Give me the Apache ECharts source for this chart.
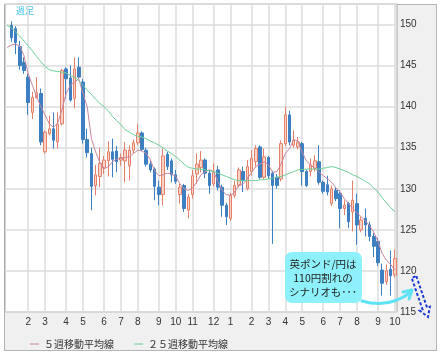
<!DOCTYPE html>
<html><head><meta charset="utf-8">
<script src="https://cdn.jsdelivr.net/npm/echarts@6/dist/echarts.min.js"></script>
<style>
html,body{margin:0;padding:0;background:#fff;}
#frame{position:absolute;left:4px;top:4px;width:431px;height:345px;background:#f0f0f0;border:1px solid #b4b4b4;}
#c{position:absolute;left:0;top:0;width:441px;height:355px;}
</style></head><body>
<div id="frame"></div><div id="c"></div>
<script>
// weekly candles (first entry = previous week, only its moving averages are visible)
const opens  = [null,149.9,149.5,147.3,145.4,143.6,139.3,141.1,141.6,134.5,136.7,137.3,135.7,137.9,144.6,143.5,141.0,144.8,143.0,136.0,134.3,130.4,131.5,132.5,133.4,134.5,134.6,133.5,133.4,132.8,134.7,135.6,136.8,134.7,133.0,132.4,130.2,129.3,134.2,133.4,131.7,129.3,130.4,127.4,129.3,131.8,132.6,133.5,131.9,130.6,132.3,130.2,128.0,126.4,129.2,130.4,132.1,130.0,132.1,133.3,135.1,131.4,133.8,131.9,131.4,131.2,135.5,139.0,135.3,135.1,135.5,132.1,132.1,132.5,133.3,130.8,130.5,128.2,129.8,129.4,127.6,128.2,127.2,128.2,125.0,126.4,125.6,124.2,123.6,120.1,118.7,120.2,119.5];
const closes = [null,148.4,147.8,145.0,144.4,140.5,141.1,141.7,135.7,136.9,137.3,135.9,137.9,144.4,143.4,140.8,144.6,143.6,136.0,134.4,130.3,131.7,133.1,133.5,134.5,133.6,133.3,133.8,134.7,134.7,135.6,136.8,134.8,133.0,132.3,130.3,129.3,134.0,132.7,131.7,130.9,130.2,127.6,129.0,131.6,133.0,133.5,131.9,130.4,132.0,130.2,128.0,126.6,129.2,130.4,132.3,131.0,132.7,133.7,134.9,131.4,133.9,131.6,130.4,130.4,135.5,139.0,135.7,135.9,135.7,132.1,130.4,132.9,133.4,130.8,129.7,129.6,130.0,128.8,127.6,128.0,126.0,128.6,125.6,126.2,125.6,124.2,123.0,121.0,118.5,120.0,119.4,121.5];
const lows   = [null,147.9,146.4,144.5,144.0,139.0,138.5,141.0,135.3,134.3,136.5,134.9,134.9,137.7,141.0,140.6,139.8,143.4,135.5,133.8,127.4,129.2,130.2,131.8,131.5,131.4,132.0,132.8,130.8,131.0,134.3,135.3,134.6,132.7,132.0,128.6,128.0,128.0,132.3,130.8,130.6,128.2,127.2,126.4,128.8,130.6,132.0,131.3,129.4,130.3,129.8,126.6,125.6,126.1,128.9,130.2,129.6,129.8,131.6,132.7,131.2,131.2,131.2,123.3,130.0,130.9,135.2,135.3,135.0,134.8,130.4,130.2,131.5,132.1,130.5,129.4,129.2,127.9,128.5,125.2,126.8,125.2,124.8,123.2,124.7,124.2,123.6,121.7,120.6,117.0,118.3,117.0,119.2];
const highs  = [null,150.4,149.8,148.0,146.0,144.0,141.8,143.6,142.2,137.1,138.9,139.3,139.3,144.6,144.8,145.0,146.0,146.0,143.4,137.3,135.0,132.9,135.0,134.0,135.8,136.1,135.2,134.3,135.7,135.3,136.0,137.9,137.0,135.0,133.4,132.6,131.0,134.9,134.5,133.7,132.3,130.6,130.6,129.4,132.3,134.3,134.6,133.7,132.3,133.1,132.8,130.5,128.3,129.5,131.0,132.6,132.7,133.5,134.7,135.3,135.3,134.9,134.0,132.2,131.8,135.9,140.0,139.5,137.1,136.3,135.7,132.3,133.7,134.1,135.3,131.0,131.6,130.4,130.2,129.8,128.6,128.4,131.0,129.4,126.6,127.6,126.0,124.6,124.0,120.9,120.8,122.5,122.6];
// 5-week moving average
const ma5  = [147.2,147.5,147.6,147.4,146.2,144.0,142.6,141.2,140.0,139.0,137.9,137.5,138.0,139.6,141.6,142.6,143.0,143.4,141.6,140.0,136.1,134.5,133.2,132.5,132.7,133.3,133.6,133.7,133.8,133.9,134.3,134.7,134.6,134.3,133.5,132.2,131.6,131.7,131.9,131.8,131.5,130.6,130.0,129.8,130.1,130.8,131.7,132.1,132.3,132.1,130.9,129.8,129.3,129.2,129.6,130.5,130.6,131.2,132.0,132.7,133.0,133.3,132.9,132.0,132.1,133.0,134.3,134.9,136.0,135.8,134.5,133.4,132.9,132.5,132.0,131.6,131.2,130.8,130.1,129.6,128.8,128.2,127.6,127.1,126.6,126.1,125.5,124.7,123.6,122.1,121.3,120.8,120.1];
// 25-week moving average
const ma25 = [149.9,149.6,149.1,148.6,148.0,147.4,146.8,146.1,145.5,144.9,144.5,144.35,144.3,144.2,144.1,143.8,143.6,143.2,142.6,142.0,141.5,140.9,140.4,140.0,139.5,138.8,138.3,137.8,137.2,136.9,136.6,136.4,136.3,136.1,135.8,135.6,135.3,135.0,134.6,134.3,133.9,133.5,133.0,132.6,132.5,132.4,132.4,132.3,132.2,132.1,131.9,131.7,131.5,131.3,131.1,131.0,131.0,131.0,131.0,131.0,131.1,131.1,131.2,131.3,131.4,131.5,131.7,131.9,132.1,132.3,132.35,132.4,132.4,132.4,132.4,132.5,132.6,132.7,132.6,132.4,132.2,132.0,131.7,131.5,131.2,130.9,130.6,130.1,129.6,128.9,128.3,127.7,127.2];
const seriesNames = ['５週移動平均線', '２５週移動平均線'];
const yTicks = [115, 120, 125, 130, 135, 140, 145, 150];

// weekly categories (Friday week labels)
const categories = [];
for (let i = 0; i < opens.length; i++) {
  const d = new Date(Date.UTC(2012, 11, 28) + i * 7 * 86400000);
  categories.push(d.toISOString().slice(0, 10));
}
const candleData = opens.map((o, i) => o == null ? '-' : [o, closes[i], lows[i], highs[i]]);
const isMonthStart = (idx, val) => idx > 1 && Number(String(val).slice(8, 10)) <= 7;

const chart = echarts.init(document.getElementById('c'));
const jp = '"Noto Sans CJK JP", sans-serif';
chart.setOption({
  animation: false,
  backgroundColor: 'transparent',
  grid: { left: 5, top: 4, right: 44, bottom: 43, show: true, backgroundColor: '#fff', borderColor: '#a6a6a6', borderWidth: 1 },
  xAxis: {
    type: 'category', data: categories, boundaryGap: true,
    axisLine: { show: false }, axisTick: { show: false },
    axisLabel: { interval: isMonthStart, formatter: v => String(Number(v.slice(5, 7))), color: '#333', fontSize: 10, fontFamily: '"Liberation Sans", sans-serif', margin: 5 },
    splitLine: { show: true, interval: isMonthStart, alignWithLabel: true, lineStyle: { color: '#dcdcdc', width: 1.5 } }
  },
  yAxis: {
    type: 'value', position: 'right', min: 115, max: 152.5, interval: 5, scale: true,
    axisLine: { show: false }, axisTick: { show: false },
    axisLabel: { color: '#333', fontSize: 10, fontFamily: '"Liberation Sans", sans-serif', margin: 3, formatter: v => yTicks.includes(v) ? String(v) : '' },
    splitLine: { lineStyle: { color: '#dcdcdc', width: 1.5 } }
  },
  legend: {
    data: seriesNames, left: 25, top: 334, icon: 'rect', itemWidth: 9, itemHeight: 1, itemGap: 20,
    textStyle: { color: '#333', fontSize: 10, fontFamily: jp }
  },
  series: [
    { type: 'candlestick', data: candleData, barWidth: 3,
      itemStyle: { color: '#f9d3c6', color0: '#3e7fc1', borderColor: '#e4806a', borderColor0: '#3e7fc1', borderWidth: 1 } },
    { type: 'line', name: seriesNames[0], data: ma5, symbol: 'none', color: '#c9859f', lineStyle: { color: '#c9859f', width: 1 } },
    { type: 'line', name: seriesNames[1], data: ma25, symbol: 'none', color: '#6ccf98', lineStyle: { color: '#6ccf98', width: 1 } }
  ],
  graphic: [
    { type: 'text', left: 16, top: 6, style: { text: '週足', fill: '#40c4ec', fontSize: 9, fontFamily: jp } },
    { type: 'rect', z: 100, shape: { x: 285, y: 252, width: 77, height: 51, r: 7 }, style: { fill: '#8ef0fa' } },
    { type: 'text', z: 101, x: 323, y: 264, style: { text: '英ポンド/円は', fill: '#222', fontSize: 10.5, fontFamily: jp, textAlign: 'center', textVerticalAlign: 'middle' } },
    { type: 'text', z: 101, x: 323, y: 278, style: { text: '110円割れの', fill: '#222', fontSize: 10.5, fontFamily: jp, textAlign: 'center', textVerticalAlign: 'middle' } },
    { type: 'text', z: 101, x: 323, y: 292, style: { text: 'シナリオも･･･', fill: '#222', fontSize: 10.5, fontFamily: jp, textAlign: 'center', textVerticalAlign: 'middle' } },
    { type: 'bezierCurve', z: 100, shape: { x1: 362, y1: 301, x2: 411, y2: 292, cpx1: 382, cpy1: 307, cpx2: 398, cpy2: 302 }, style: { stroke: '#5fe2f3', lineWidth: 3, fill: null, lineCap: 'round' } },
    { type: 'polyline', z: 100, shape: { points: [[403, 292], [412, 290], [409, 299]] }, style: { stroke: '#5fe2f3', lineWidth: 3, fill: null, lineCap: 'round', lineJoin: 'round' } },
    { type: 'polygon', z: 100, shape: { points: [[416.3, 276.1], [427.1, 307.7], [429.9, 306.7], [428, 317], [419.6, 310.5], [422.5, 309.5], [411.7, 277.9]] },
      style: { stroke: '#1c3bd6', lineWidth: 2, fill: null, lineDash: [3, 2] } }
  ]
});
</script></body></html>
